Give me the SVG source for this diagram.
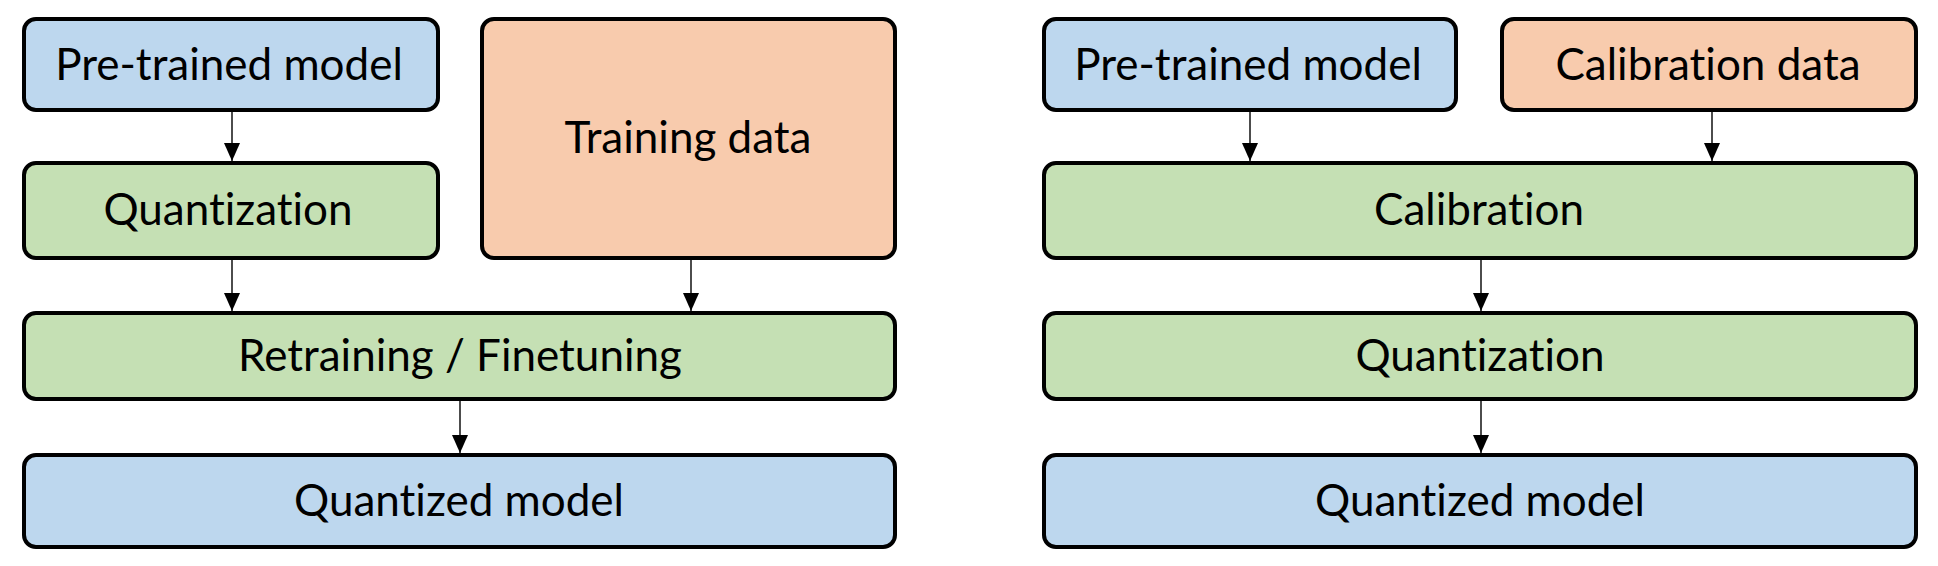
<svg xmlns="http://www.w3.org/2000/svg" width="1938" height="566" viewBox="0 0 1938 566">
<style>
.box{stroke:#000;stroke-width:4}
.blue{fill:#BDD7EE}
.green{fill:#C5E0B4}
.orange{fill:#F8CBAD}
.lbl{font-family:Lato,"Liberation Sans",sans-serif;font-size:44px;fill:#000;text-anchor:middle;font-variant-ligatures:none;font-feature-settings:"liga" 0}
.conn{stroke:#000;stroke-width:1.4;fill:none;marker-end:url(#ah)}
</style>
<defs>
<marker id="ah" markerUnits="userSpaceOnUse" markerWidth="18" markerHeight="16" refX="18" refY="8" orient="auto">
<path d="M0,0 L18,8 L0,16 z" fill="#000"/>
</marker>
</defs>
<rect x="0" y="0" width="1938" height="566" fill="#fff"/>
<g id="L-pretrained"><rect class="box blue" x="24" y="19" width="414" height="91" rx="12"/><text class="lbl" x="229" y="80">Pre-trained model</text></g>
<g id="L-training"><rect class="box orange" x="482" y="19" width="413" height="239" rx="12"/><text class="lbl" x="688" y="153">Training data</text></g>
<g id="L-quant"><rect class="box green" x="24" y="163" width="414" height="95" rx="12"/><text class="lbl" x="228" y="225">Quantization</text></g>
<g id="L-retrain"><rect class="box green" x="24" y="313" width="871" height="86" rx="12"/><text class="lbl" x="460" y="371">Retraining / Finetuning</text></g>
<g id="L-qmodel"><rect class="box blue" x="24" y="455" width="871" height="92" rx="12"/><text class="lbl" x="459" y="516">Quantized model</text></g>
<g id="R-pretrained"><rect class="box blue" x="1044" y="19" width="412" height="91" rx="12"/><text class="lbl" x="1248" y="80">Pre-trained model</text></g>
<g id="R-calibdata"><rect class="box orange" x="1502" y="19" width="414" height="91" rx="12"/><text class="lbl" x="1708" y="80">Calibration data</text></g>
<g id="R-calib"><rect class="box green" x="1044" y="163" width="872" height="95" rx="12"/><text class="lbl" x="1479" y="225">Calibration</text></g>
<g id="R-quant"><rect class="box green" x="1044" y="313" width="872" height="86" rx="12"/><text class="lbl" x="1480" y="371">Quantization</text></g>
<g id="R-qmodel"><rect class="box blue" x="1044" y="455" width="872" height="92" rx="12"/><text class="lbl" x="1480" y="516">Quantized model</text></g>
<g id="connectors">
<line class="conn" x1="232" y1="112" x2="232" y2="161"/>
<line class="conn" x1="232" y1="260" x2="232" y2="311"/>
<line class="conn" x1="691" y1="260" x2="691" y2="311"/>
<line class="conn" x1="460" y1="401" x2="460" y2="453"/>
<line class="conn" x1="1250" y1="112" x2="1250" y2="161"/>
<line class="conn" x1="1712" y1="112" x2="1712" y2="161"/>
<line class="conn" x1="1481" y1="260" x2="1481" y2="311"/>
<line class="conn" x1="1481" y1="401" x2="1481" y2="453"/>
</g>
</svg>
